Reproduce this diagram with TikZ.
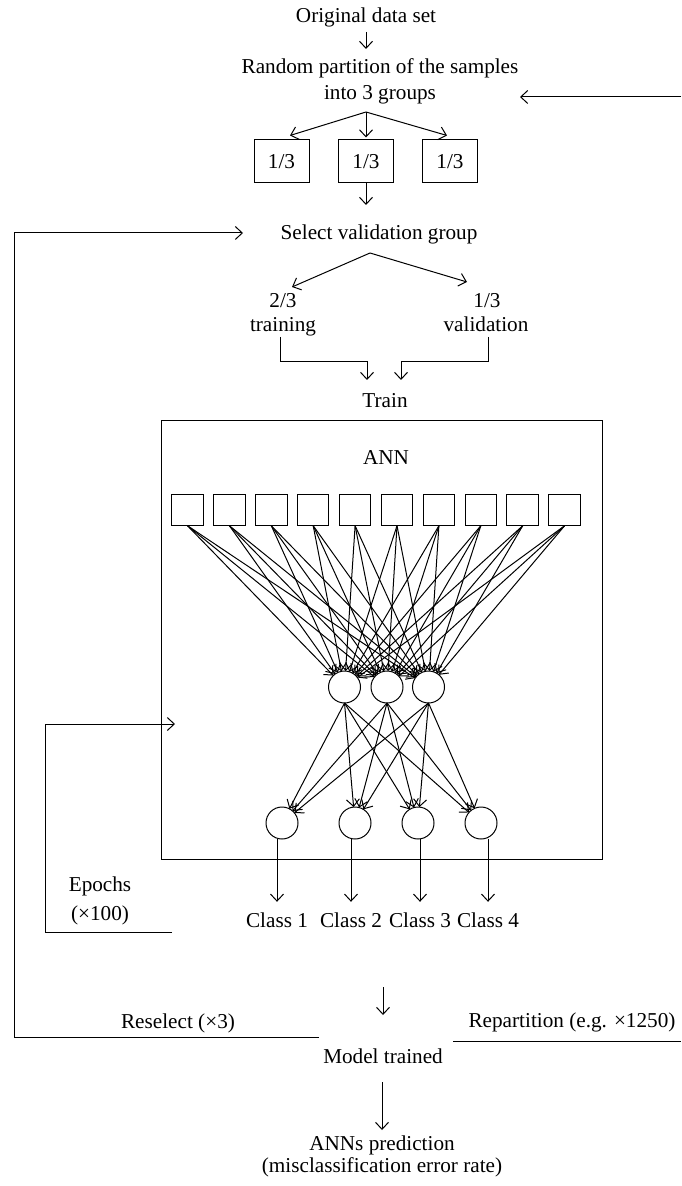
\documentclass[tikz,border=0pt]{standalone}
\usepackage{fontspec}
\setmainfont{Liberation Serif}
\usetikzlibrary{arrows.meta,calc}
\begin{document}
\begin{tikzpicture}[x=0.5pt,y=-0.5pt,
  line width=0.5pt,
  font=\fontsize{10.6}{12}\selectfont,
  arr/.style={-{Straight Barb[length=3.5pt,width=6.5pt,line width=0.5pt]}},
  lbl/.style={anchor=base,inner sep=0pt},
  grp/.style={draw,minimum width=27.5pt,minimum height=21.5pt,inner sep=0pt},
  inp/.style={draw,minimum size=15.75pt,inner sep=0pt,outer sep=0pt},
  neuron/.style={draw,circle,minimum size=16pt,inner sep=0pt,outer sep=0pt}]
\useasboundingbox (0,0) rectangle (681,1186);

% ---- partitioning of the data ----
\node[lbl] (orig)  at (366,23)  {Original data set};
\node[lbl] (partA) at (380,74)  {Random partition of the samples};
\node[lbl] (partB) at (380,100) {into 3 groups};
\coordinate (o1a) at (366,32);
\coordinate (o1b) at (366,49);
\draw[arr] (o1a) -- (o1b);

\node[grp] (g1) at (281.5,161.5) {1/3};
\node[grp] (g2) at (366,161.5)   {1/3};
\node[grp] (g3) at (450,161.5)   {1/3};
\coordinate (fork1) at (366,112);
\draw[arr] (fork1) -- ([xshift=4.25pt,yshift=2pt]g1.north);
\draw[arr] (fork1) -- ([yshift=1pt]g2.north);
\draw[arr] (fork1) -- ([xshift=-1.5pt,yshift=2pt]g3.north);

% ---- validation group ----
\node[lbl] (sel) at (379,240) {Select validation group};
\coordinate (g2b) at (366,205);
\draw[arr] (g2.south) -- (g2b);

\node[lbl] (trnA) at (283,308) {2/3};
\node[lbl] (trnB) at (283,332) {training};
\node[lbl] (valA) at (487,308) {1/3};
\node[lbl] (valB) at (486,332) {validation};
\coordinate (fork2) at (370,253);
\coordinate (trnT) at (292,287);
\coordinate (valT) at (467,282);
\draw[arr] (fork2) -- (trnT);
\draw[arr] (fork2) -- (valT);

\node[lbl] (train) at (385,408) {Train};
\coordinate (t1) at (280,337);
\coordinate (t2) at (280,362);
\coordinate (t3) at (367,362);
\coordinate (t4) at (367,380);
\coordinate (v1) at (488,337);
\coordinate (v2) at (488,362);
\coordinate (v3) at (401,362);
\coordinate (v4) at (401,380);
\draw[arr] (t1) -- (t2) -- (t3) -- (t4);
\draw[arr] (v1) -- (v2) -- (v3) -- (v4);

% ---- the network ----
\node[draw,minimum width=220.5pt,minimum height=219pt,inner sep=0pt] (annbox) at (381.5,640) {};
\node[lbl] (annlbl) at (386,465) {ANN};
\foreach \i in {1,...,10}
  \node[inp] (in\i) at ({187.5+41.9*(\i-1)},510) {};
\node[neuron] (h1) at (344.5,687) {};
\node[neuron] (h2) at (387,687)   {};
\node[neuron] (h3) at (428.5,687) {};
\node[neuron] (o1) at (282,823) {};
\node[neuron] (o2) at (355,823) {};
\node[neuron] (o3) at (418,823) {};
\node[neuron] (o4) at (481,823) {};
\foreach \i in {1,...,10}
  \foreach \j in {1,2,3}
    \draw[arr] (in\i.south) -- (h\j);
\foreach \j in {1,2,3}
  \foreach \k in {1,...,4}
    \draw[arr] (h\j.south) -- (o\k);

\node[lbl] (c1) at (277,927) {Class 1};
\node[lbl] (c2) at (351,927) {Class 2};
\node[lbl] (c3) at (420,927) {Class 3};
\node[lbl] (c4) at (488,927) {Class 4};
\foreach \k in {1,...,4}
  \draw[arr] (o\k.south -| c\k) -- ([yshift=5pt]c\k.north);

% ---- epochs loop ----
\node[lbl] (epA) at (100,891) {Epochs};
\node[lbl] (epB) at (100,920) {(×100)};
\coordinate (e1) at (172,932);
\coordinate (e2) at (45,932);
\coordinate (e3) at (45,724);
\coordinate (e4) at (175,724);
\draw[arr] (e1) -- (e2) -- (e3) -- (e4);

% ---- result and outer loops ----
\node[lbl] (model) at (383,1063) {Model trained};
\coordinate (m1) at (383,987);
\coordinate (m2) at (383,1015);
\draw[arr] (m1) -- (m2);

\node[lbl] (resel) at (178,1028) {Reselect (×3)};
\coordinate (r1) at (319,1037);
\coordinate (r2) at (14,1037);
\coordinate (r3) at (14,233);
\coordinate (r4) at (243,233);
\draw[arr] (r1) -- (r2) -- (r3) -- (r4);

\node[lbl] (repart) at (572,1027) {Repartition (e.g. ×1250)};
\coordinate (p1) at (453,1041);
\coordinate (p2) at (681,1041);
\coordinate (p3) at (681,97);
\coordinate (p4) at (520,97);
\draw (p1) -- (p2);
\draw[arr] (p3) -- (p4);

\node[lbl] (predA) at (382,1150) {ANNs prediction};
\node[lbl] (predB) at (382,1172) {(misclassification error rate)};
\coordinate (n1) at (382,1082);
\coordinate (n2) at (382,1130);
\draw[arr] (n1) -- (n2);
\end{tikzpicture}
\end{document}
